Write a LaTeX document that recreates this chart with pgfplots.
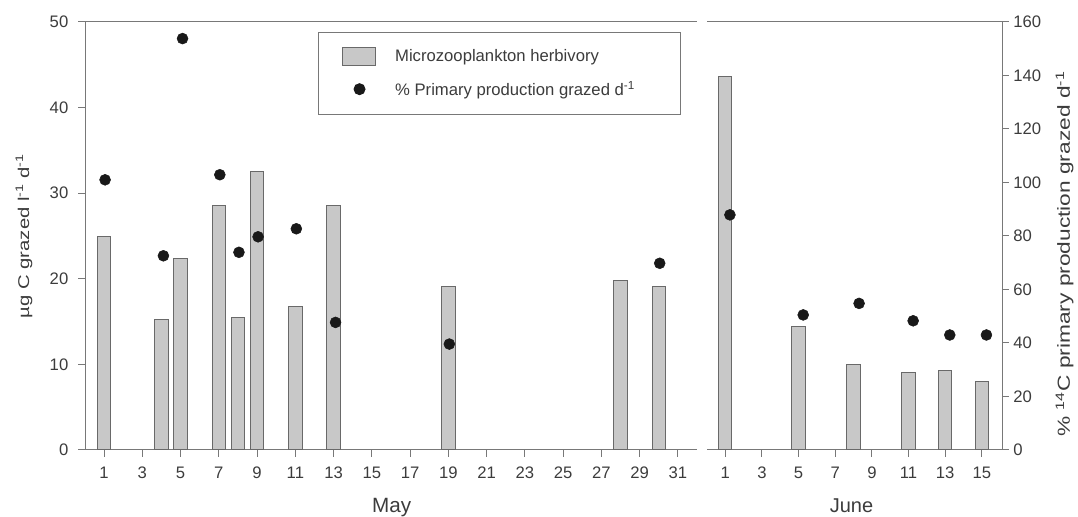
\documentclass[border=0pt]{standalone}
\usepackage{pgfplots}
\pgfplotsset{compat=1.18}
\usepackage{fontspec}
\setmainfont{Liberation Sans}
\newfontfamily\stretchfont{Liberation Sans}[FakeStretch=1.3]
\definecolor{axgray}{RGB}{120,120,120}
\definecolor{textc}{RGB}{60,60,60}
\definecolor{barfill}{RGB}{200,200,200}
\definecolor{baredge}{RGB}{105,105,105}
\definecolor{dotc}{RGB}{25,25,25}
\pgfplotsset{
  common/.style={
    scale only axis, ymin=0,
    axis line style={draw=axgray, line width=0.75pt, -},
    tick style={draw=axgray, line width=0.75pt},
    tick align=outside, major tick length=5pt,
    /pgf/number format/assume math mode=true,
    ticklabel style={font=\fontsize{12.5}{14}\selectfont, text=textc},
    xticklabel style={yshift=-4pt},
    label style={text=textc},
    clip=false,
  },
  barlegend/.style={legend image code/.code={\draw[#1] (0pt,-6.75pt) rectangle (24.75pt,6.75pt);}},
  dotlegend/.style={legend image code/.code={\draw[mark repeat=2,mark phase=2,#1] plot coordinates {(0pt,0pt)(12.4pt,0pt)(24.75pt,0pt)};}},
}
\begin{document}
\begin{tikzpicture}
\path[use as bounding box] (0,0) rectangle (808.5pt,387.75pt);
% ---------------- May, bars (left axis)
\begin{axis}[common,
  at={(63.75pt,50.25pt)}, anchor=south west,
  width=459pt, height=321pt,
  xmin=0, xmax=32, ymax=50,
  axis x line*=bottom, axis y line*=left,
  xtick={1,3,...,31}, ytick={0,10,...,50},
  yticklabel style={xshift=-4pt},
  xlabel={May},
  xlabel style={at={(axis description cs:0.501,-0.145)}, anchor=base, font=\fontsize{15.5}{18}\selectfont},
  ylabel={\stretchfont\fontsize{11.7}{13}\selectfont µg C grazed l\textsuperscript{-1} d\textsuperscript{-1}},
  ylabel style={at={(axis description cs:-0.0997,0.5)}, anchor=center},
  legend style={at={(axis description cs:0.3807,0.9766)}, anchor=north west,
    draw=axgray, line width=0.75pt, fill=white,
    font=\fontsize{12.5}{14}\selectfont, text=textc,
    inner xsep=18pt, inner ysep=11pt, row sep=9pt,
    /tikz/every odd column/.append style={column sep=12pt}},
  legend cell align=left,
]
\addplot[ybar, bar width=10pt, fill=barfill, draw=baredge, line width=0.75pt, barlegend]
  coordinates {(1,24.9) (4,15.2) (5,22.4) (7,28.6) (8,15.5) (9,32.5) (11,16.8) (13,28.6) (19,19.1) (28,19.8) (30,19.1)};
\addlegendentry{Microzooplankton herbivory}
\addlegendimage{only marks, mark=*, mark size=4.1pt, mark options={fill=dotc, draw=dotc}, dotlegend}
\addlegendentry{\% Primary production grazed d\textsuperscript{-1}\hspace*{14pt}}
\end{axis}
% ---------------- May, dots (right scale, hidden)
\begin{axis}[common,
  at={(63.75pt,50.25pt)}, anchor=south west,
  width=459pt, height=321pt,
  xmin=0, xmax=32, ymax=160,
  axis x line*=top, axis y line=none,
  xtick=\empty, ytick=\empty,
]
\addplot[only marks, mark=*, mark size=4.1pt, mark options={fill=dotc, draw=dotc}]
  coordinates {(1.05,101) (4.1,72.6) (5.1,153.8) (7.05,102.9) (8.05,73.9) (9.05,79.7) (11.05,82.7) (13.1,47.7) (19.05,39.6) (30.05,69.8)};
\end{axis}
% ---------------- June, bars
\begin{axis}[common,
  at={(530.25pt,50.25pt)}, anchor=south west,
  width=221.25pt, height=321pt,
  xmin=0, xmax=16.1, ymax=50,
  axis x line*=bottom, axis y line=none,
  xtick={1,3,...,15}, ytick=\empty,
  xlabel={June},
  xlabel style={at={(axis description cs:0.49,-0.145)}, anchor=base, font=\fontsize{15}{18}\selectfont},
]
\addplot[ybar, bar width=10pt, fill=barfill, draw=baredge, line width=0.75pt]
  coordinates {(1,43.6) (5,14.4) (8,10.0) (11,9.1) (13,9.3) (15,8.0)};
\end{axis}
% ---------------- June, dots (right axis)
\begin{axis}[common,
  at={(530.25pt,50.25pt)}, anchor=south west,
  width=221.25pt, height=321pt,
  xmin=0, xmax=16.1, ymax=160,
  axis x line*=top, axis y line*=right,
  xtick=\empty, ytick={0,20,...,160},
  ylabel={\stretchfont\fontsize{13.1}{15}\selectfont \% \textsuperscript{14}C primary production grazed d\textsuperscript{-1}},
  ylabel style={at={(axis description cs:1.212,0.458)}, anchor=center},
]
\addplot[only marks, mark=*, mark size=4.1pt, mark options={fill=dotc, draw=dotc}]
  coordinates {(1.25,87.9) (5.25,50.5) (8.3,54.8) (11.25,48.3) (13.25,43) (15.25,43)};
\end{axis}
\end{tikzpicture}
\end{document}
